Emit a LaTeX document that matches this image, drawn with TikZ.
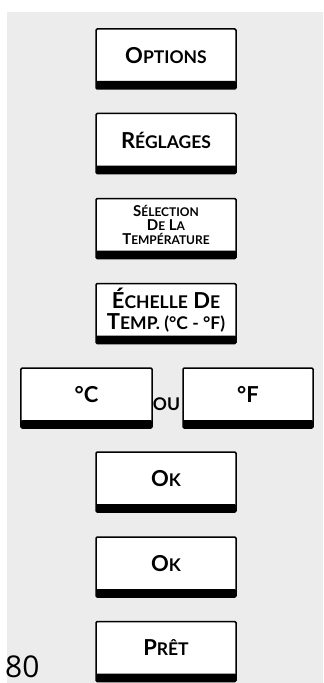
\documentclass[tikz,border=0pt]{standalone}
\usepackage{fontspec}
\setmainfont{Lato}
\newfontfamily\numfont{Open Sans}
\newcommand\BigC{\fontsize{22bp}{24bp}\selectfont}
\newcommand\SmC{\fontsize{17.5bp}{20bp}\selectfont}
\newcommand\BigS{\fontsize{15bp}{14bp}\selectfont}
\newcommand\SmS{\fontsize{12bp}{14bp}\selectfont}
\newcommand\Kc[2]{{\BigC #1}{\SmC #2}}
\newcommand\Ks[2]{{\BigS #1}{\SmS #2}}
\definecolor{bggray}{RGB}{235,236,235}
\tikzset{
  stepbox/.style={draw=black, line width=1.5bp, fill=white, rounded corners=1.2bp,
    minimum width=140bp, minimum height=60bp, inner sep=0pt,
    path picture={\fill[black] (path picture bounding box.south west) rectangle ([yshift=8bp]path picture bounding box.south east);}},
  smallbox/.style={stepbox, minimum width=131bp},
  lbl/.style={inner sep=0pt, align=center, font=\bfseries, text=black},
}
\begin{document}
\begin{tikzpicture}[x=1bp,y=-1bp]
\useasboundingbox (0,0) rectangle (323,683);
\fill[bggray] (7,12) rectangle (323,683);
% boxes
\node[stepbox] (b1) at (166,59) {};
\node[stepbox] (b2) at (166,143.5) {};
\node[stepbox] (b3) at (166,228.5) {};
\node[stepbox] (b4) at (166,313.5) {};
\node[smallbox] (b5a) at (86.5,398) {};
\node[smallbox, minimum width=130bp] (b5b) at (248,398) {};
\node[stepbox] (b6) at (166,482) {};
\node[stepbox] (b7) at (166,567) {};
\node[stepbox] (b8) at (166,651.5) {};
% labels
\node[lbl, font=\bfseries\BigS] (t3) at ([yshift=3.5bp]b3.center) {\Ks{S}{ÉLECTION}\\\Ks{D}{E} \Ks{L}{A}\\\Ks{T}{EMPÉRATURE}};
\node[lbl] (t1) at ([yshift=3.5bp]b1.center) {\Kc{O}{PTIONS}};
\node[lbl] (t2) at ([yshift=3.5bp]b2.center) {\Kc{R}{ÉGLAGES}};
\node[lbl, font=\bfseries\fontsize{22bp}{21bp}\selectfont] (t4) at ([yshift=3.5bp]b4.center) {\Kc{É}{CHELLE} \Kc{D}{E}\\\Kc{T}{EMP. (°C - °F)}};
\node[lbl] (t5a) at ([yshift=3.5bp]b5a.center) {{\BigC °C}};
\node[lbl] (t5b) at ([yshift=3.5bp]b5b.center) {{\BigC °F}};
\node[lbl] (ou) at (166.5,404) {{\SmC OU}};
\node[lbl] (t6) at ([yshift=3.5bp]b6.center) {\Kc{O}{K}};
\node[lbl] (t7) at ([yshift=3.5bp]b7.center) {\Kc{O}{K}};
\node[lbl] (t8) at ([yshift=3.5bp]b8.center) {\Kc{P}{RÊT}};
\node[inner sep=0pt, anchor=base west, font=\numfont\fontsize{30bp}{30bp}\selectfont] (pg) at (5,677) {80};
\end{tikzpicture}
\end{document}
